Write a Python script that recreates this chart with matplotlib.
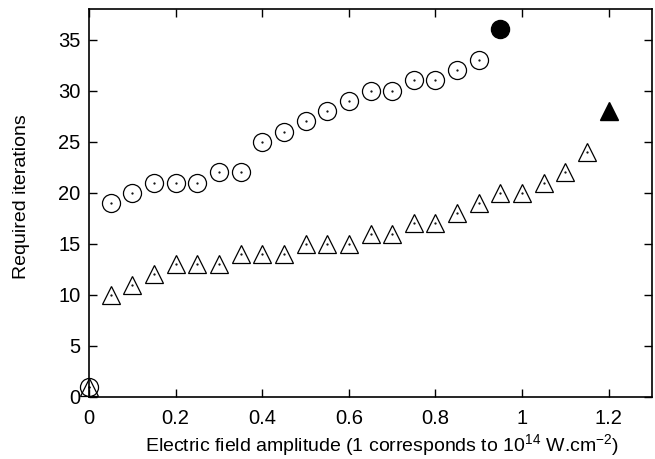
import matplotlib
matplotlib.use("Agg")
import matplotlib.pyplot as plt

plt.rcParams['font.family'] = ['Liberation Sans', 'DejaVu Sans']
plt.rcParams['axes.unicode_minus'] = False

circ_x = [0.0, 0.05, 0.1, 0.15, 0.2, 0.25, 0.3, 0.35, 0.4, 0.45, 0.5, 0.55, 0.6,
          0.65, 0.7, 0.75, 0.8, 0.85, 0.9]
circ_y = [1, 19, 20, 21, 21, 21, 22, 22, 25, 26, 27, 28, 29, 30, 30, 31, 31, 32, 33]
circ_fill_x = [0.95]
circ_fill_y = [36]

tri_x = [0.0, 0.05, 0.1, 0.15, 0.2, 0.25, 0.3, 0.35, 0.4, 0.45, 0.5, 0.55, 0.6,
         0.65, 0.7, 0.75, 0.8, 0.85, 0.9, 0.95, 1.0, 1.05, 1.1, 1.15]
tri_y = [1, 10, 11, 12, 13, 13, 13, 14, 14, 14, 15, 15, 15, 16, 16, 17, 17, 18,
         19, 20, 20, 21, 22, 24]
tri_fill_x = [1.2]
tri_fill_y = [28]

xticks = [0, 0.2, 0.4, 0.6, 0.8, 1.0, 1.2]
xticklabels = ['0', '0.2', '0.4', '0.6', '0.8', '1', '1.2']
yticks = [0, 5, 10, 15, 20, 25, 30, 35]

fig = plt.figure(figsize=(6.55, 4.59), dpi=100)
ax = fig.add_axes([89/655, 62/459, (652-89)/655, (397-9)/459])

ax.plot(circ_x, circ_y, linestyle='none', marker='o', markersize=13,
        markerfacecolor='none', markeredgecolor='black', markeredgewidth=0.9, clip_on=False)
ax.plot(circ_x, circ_y, linestyle='none', marker='.', markersize=1.2,
        color='black', clip_on=False)
ax.plot(tri_x, tri_y, linestyle='none', marker='^', markersize=13,
        markerfacecolor='none', markeredgecolor='black', markeredgewidth=0.9, clip_on=False)
ax.plot(tri_x, tri_y, linestyle='none', marker='.', markersize=1.2,
        color='black', clip_on=False)
ax.plot(circ_fill_x, circ_fill_y, linestyle='none', marker='o', markersize=13,
        color='black', clip_on=False)
ax.plot(tri_fill_x, tri_fill_y, linestyle='none', marker='^', markersize=13,
        color='black', clip_on=False)

ax.set_xlim(0, 1.3)
ax.set_ylim(0, 38)
ax.set_xticks(xticks)
ax.set_xticklabels(xticklabels)
ax.set_yticks(yticks)
ax.tick_params(direction='in', top=True, right=True, length=6, width=1,
               labelsize=14.5)
ax.tick_params(axis='x', pad=9)
ax.tick_params(axis='y', pad=6)
for s in ax.spines.values():
    s.set_linewidth(1.2)

ax.set_xlabel('Electric field amplitude (1 corresponds to $\\mathregular{10^{14}}$ W.cm$\\mathregular{^{-2}}$)',
              fontsize=14)
ax.set_ylabel('Required iterations', fontsize=14)
ax.xaxis.set_label_coords((382 - 89) / 563, -(445 - 397) / 388, transform=ax.transAxes)
ax.yaxis.set_label_coords(-(89 - 22) / 563, 0.5 + (203 - 197) / 388, transform=ax.transAxes)
ax.xaxis.label.set_va('center')
ax.yaxis.label.set_va('center')

fig.savefig('out.png', dpi=100)
